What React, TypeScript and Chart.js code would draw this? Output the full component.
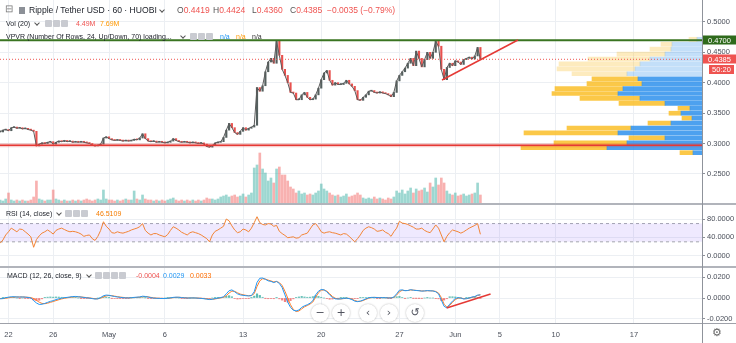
import React, { useEffect, useRef } from 'react';
import { Chart, registerables } from 'chart.js';

Chart.register(...registerables);

// ---------- time axis (days since Apr 22, 00:00) ----------
const START_DAY = -0.75; // first 6-hour bar
const STEP_DAYS = 0.25; // 6-hour bars
const X_MIN = -0.761;
const X_MAX = 62.09;
const dateTickDays = [0, 4, 9, 14, 21, 28, 35, 40, 44, 49, 56];
const dateTickLabels = ['22', '26', 'May', '6', '13', '20', '27', 'Jun', '5', '10', '17'];

// ---------- axis ticks ----------
const priceTicks = [0.25, 0.3, 0.35, 0.4, 0.45, 0.5];
const rsiTicks = [0, 40, 80];
const macdTicks = [-0.02, 0, 0.02];

// ---------- XRP/USDT closes (6h samples) ----------
const closes = [
  0.319, 0.322, 0.323, 0.321, 0.326, 0.327, 0.325, 0.326, 0.324, 0.325, 0.323, 0.322, 0.320,
  0.296, 0.299, 0.301, 0.300, 0.302, 0.303, 0.299, 0.302, 0.304, 0.303, 0.305, 0.303, 0.304, 0.302, 0.303, 0.302, 0.303, 0.302, 0.301, 0.300, 0.297, 0.296, 0.297, 0.299,
  0.309, 0.311, 0.308, 0.306, 0.305, 0.306, 0.305, 0.304, 0.305, 0.304, 0.305, 0.307, 0.306, 0.309, 0.316, 0.308, 0.304, 0.303, 0.304, 0.302, 0.303, 0.302, 0.301, 0.302, 0.304, 0.308, 0.305, 0.303, 0.302, 0.303, 0.302, 0.301, 0.302, 0.301, 0.300, 0.301, 0.299, 0.295, 0.294, 0.297, 0.301, 0.302, 0.303,
  0.310, 0.322, 0.333, 0.326, 0.318, 0.315, 0.320, 0.326, 0.322, 0.325, 0.327, 0.330,
  0.392, 0.386, 0.395, 0.418, 0.434, 0.440, 0.432, 0.468, 0.445, 0.422, 0.412, 0.400, 0.384, 0.383, 0.372, 0.372, 0.380, 0.384, 0.376, 0.372, 0.373, 0.380, 0.391, 0.405, 0.416, 0.420, 0.404, 0.396, 0.400, 0.397, 0.397, 0.399, 0.404, 0.398, 0.394, 0.387, 0.372, 0.371, 0.376, 0.380, 0.386, 0.387, 0.384, 0.383, 0.385, 0.383, 0.382, 0.380, 0.377, 0.384, 0.403, 0.412, 0.418, 0.424, 0.432, 0.440, 0.428, 0.452, 0.440, 0.426, 0.438, 0.450, 0.440, 0.450, 0.468, 0.460, 0.422, 0.405, 0.425, 0.432, 0.428, 0.436, 0.434, 0.430, 0.438, 0.440, 0.442, 0.439, 0.444, 0.458, 0.4385,
];

// ---------- volume (M, 6h) ----------
const volumes = [
  3, 2, 4, 10, 3, 2, 3, 2, 3, 2, 2, 3, 6,
  22,
  4, 3, 2, 3, 3, 13, 4, 3, 2, 3, 2, 2, 3, 2, 3, 2, 3, 4, 3, 2, 3, 4, 3,
  13,
  4, 3, 3, 2, 3, 2, 3, 4, 3, 3, 12, 4, 3, 8, 4, 3, 3, 2, 3, 2, 3, 2, 3, 4, 5, 3, 2, 3, 2, 3, 2, 3, 2, 3, 2, 3, 5, 4, 4, 3, 4, 6,
  7, 8, 6, 7, 8, 6, 7, 9, 6, 8, 10,
  35, 38, 50, 34, 30, 22, 25, 20, 34, 36, 28, 28, 22, 16, 14, 10, 12, 9, 10, 8, 9, 8, 10, 12, 19, 14, 12, 10, 8,
  7, 8, 6, 7, 9, 6, 7, 8, 10, 8, 5, 4, 5, 4, 6, 4, 5, 4, 3, 5, 4, 6,
  12, 10, 13, 9, 12, 15, 10, 14, 12, 13, 15, 11, 20, 16, 25, 18, 25, 20, 12, 9, 8, 10, 7, 8, 9, 7, 8, 9, 10, 20, 8,
];

// ---------- RSI (14) ----------
const rsi = [
  27, 34, 45, 52, 60, 56, 52, 58, 57, 52, 47, 41, 18, 35, 43, 49, 52, 56, 52, 47,
  55, 58, 60, 57, 54, 52, 53, 52, 50, 47, 42, 44, 45, 37, 33, 42, 55, 74, 64, 58,
  50, 49, 52, 50, 49, 51, 53, 56, 58, 60, 63, 70, 55, 49, 45, 48, 48, 45, 43, 41,
  46, 55, 63, 60, 56, 51, 48, 45, 50, 52, 50, 48, 45, 41, 37, 30, 45, 53, 56, 60,
  64, 80, 76, 65, 56, 50, 52, 58, 56, 52, 60, 72, 85, 72, 68, 67, 70, 69, 64, 66,
  53, 48, 44, 39, 40, 41, 38, 39, 45, 47, 49, 58, 67, 70, 62, 52, 49, 51, 52, 50,
  49, 47, 45, 48, 47, 42, 36, 30, 37, 45, 55, 60, 63, 61, 58, 53, 54, 56, 51, 48,
  42, 52, 60, 75, 71, 70, 68, 65, 62, 58, 58, 60, 55, 52, 50, 58, 67, 60, 45, 30,
  42, 50, 56, 54, 52, 49, 52, 56, 60, 63, 66, 70, 46.5109,
];

// ---------- MACD (12, 26, 9) ----------
const macd = [
  -0.0008, -0.0005, 0.0003, 0.0008, 0.0012, 0.0012, 0.0010, 0.0009, 0.0010, 0.0008, 0.0005, 0.0001, -0.0025, -0.0048, -0.0062, -0.0060, -0.0052, -0.0042, -0.0032, -0.0026,
  -0.0015, -0.0008, -0.0002, 0.0003, 0.0006, 0.0010, 0.0014, 0.0015, 0.0012, 0.0009, 0.0005, 0.0002, -0.0001, -0.0006, -0.0010, -0.0008, 0.0004, 0.0022, 0.0028, 0.0026,
  0.0020, 0.0014, 0.0010, 0.0006, 0.0003, 0.0001, 0.0001, 0.0003, 0.0006, 0.0008, 0.0010, 0.0017, 0.0015, 0.0009, 0.0003, -0.0001, -0.0003, -0.0004, -0.0005, -0.0005,
  -0.0003, 0.0001, 0.0006, 0.0008, 0.0007, 0.0004, 0.0002, 0.0000, 0.0000, 0.0001, 0.0000, -0.0002, -0.0004, -0.0007, -0.0011, -0.0015, -0.0012, -0.0006, -0.0001, 0.0004,
  0.0012, 0.0040, 0.0070, 0.0078, 0.0060, 0.0040, 0.0030, 0.0026, 0.0022, 0.0020, 0.0024, 0.0060, 0.0150, 0.0190, 0.0192, 0.0180, 0.0165, 0.0160, 0.0148, 0.0160,
  0.0140, 0.0100, 0.0030, -0.0040, -0.0090, -0.0118, -0.0124, -0.0115, -0.0090, -0.0075, -0.0065, -0.0050, -0.0025, 0.0030, 0.0065, 0.0082, 0.0078, 0.0060, 0.0030, 0.0005,
  -0.0008, -0.0010, -0.0008, -0.0004, -0.0002, -0.0006, -0.0015, -0.0030, -0.0035, -0.0030, -0.0020, -0.0008, 0.0002, 0.0006, 0.0006, 0.0004, 0.0003, 0.0004, 0.0003, 0.0001,
  0.0000, 0.0010, 0.0040, 0.0075, 0.0078, 0.0070, 0.0072, 0.0080, 0.0075, 0.0072, 0.0070, 0.0066, 0.0068, 0.0071, 0.0069, 0.0068, 0.0060, 0.0040, -0.0020, -0.0080,
  -0.0095, -0.0060, -0.0030, -0.0005, 0.0003, 0.0000, -0.0010, -0.0006, 0.0000, 0.0010, 0.0014, 0.0028, 0.0029,
];
const signal = [
  -0.0005, -0.0006, -0.0003, 0.0002, 0.0006, 0.0009, 0.0010, 0.0010, 0.0010, 0.0009, 0.0007, 0.0004, -0.0005, -0.0022, -0.0040, -0.0052, -0.0055, -0.0050, -0.0042, -0.0034,
  -0.0025, -0.0017, -0.0009, -0.0003, 0.0002, 0.0006, 0.0010, 0.0012, 0.0012, 0.0010, 0.0007, 0.0004, 0.0001, -0.0003, -0.0007, -0.0008, -0.0002, 0.0010, 0.0020, 0.0024,
  0.0022, 0.0018, 0.0013, 0.0009, 0.0006, 0.0003, 0.0002, 0.0002, 0.0004, 0.0006, 0.0008, 0.0012, 0.0014, 0.0011, 0.0006, 0.0002, -0.0001, -0.0003, -0.0004, -0.0005,
  -0.0004, -0.0001, 0.0003, 0.0006, 0.0007, 0.0005, 0.0003, 0.0001, 0.0000, 0.0001, 0.0000, -0.0001, -0.0003, -0.0005, -0.0008, -0.0012, -0.0012, -0.0009, -0.0004, 0.0001,
  0.0007, 0.0022, 0.0048, 0.0066, 0.0064, 0.0050, 0.0038, 0.0031, 0.0026, 0.0022, 0.0023, 0.0042, 0.0110, 0.0165, 0.0185, 0.0182, 0.0172, 0.0164, 0.0155, 0.0158,
  0.0148, 0.0120, 0.0065, 0.0000, -0.0065, -0.0110, -0.0130, -0.0125, -0.0105, -0.0085, -0.0072, -0.0058, -0.0038, 0.0008, 0.0050, 0.0075, 0.0078, 0.0066, 0.0042, 0.0015,
  -0.0002, -0.0008, -0.0009, -0.0006, -0.0003, -0.0004, -0.0011, -0.0024, -0.0032, -0.0032, -0.0024, -0.0013, -0.0002, 0.0004, 0.0006, 0.0005, 0.0004, 0.0004, 0.0003, 0.0002,
  0.0001, 0.0006, 0.0028, 0.0060, 0.0074, 0.0072, 0.0072, 0.0077, 0.0076, 0.0073, 0.0071, 0.0068, 0.0068, 0.0070, 0.0069, 0.0068, 0.0063, 0.0048, 0.0005, -0.0060,
  -0.0088, -0.0072, -0.0042, -0.0015, -0.0002, 0.0000, -0.0006, -0.0007, -0.0002, 0.0006, 0.0012, 0.0024, 0.0033,
];

// ---------- Volume profile (24 rows) ----------
const vpvrPrices = [
  0.4747, 0.4666, 0.4585, 0.4504, 0.4423, 0.4342, 0.4261, 0.4180, 0.4098, 0.4017, 0.3936, 0.3855,
  0.3774, 0.3693, 0.3612, 0.3531, 0.3450, 0.3369, 0.3288, 0.3207, 0.3126, 0.3044, 0.2963, 0.2882,
];
const vpvrDown = [5, 30, 31, 37, 52, 62, 67, 75, 64, 60, 79, 84, 62, 37, 12, 21, 10, 31, 71, 84, 37, 75, 95, 9];
const vpvrUp = [8, 11, 21, 48, 62, 81, 78, 55, 46, 55, 68, 66, 60, 46, 12, 12, 10, 23, 64, 94, 36, 73, 86, 13];
const vpvrValueArea = [0, 0, 0, 0, 0, 0, 0, 0, 1, 1, 1, 1, 1, 1, 1, 1, 1, 1, 1, 1, 1, 1, 1, 1];

// ---------- drawn levels ----------
const resistance = 0.47;
const support = 0.297;
const lastPrice = 0.4385;
const priceTrendDays = [38.81, 45.61];
const priceTrendValues = [0.4044, 0.4702];
const macdTrendDays = [39.23, 43.16];
const macdTrendValues = [-0.0096, 0.0038];
const boxValues = [0.47, 0.4385];
const boxTexts = ['0.4700', '0.4385'];
const boxColors = ['#2f6a1c', '#ef5350'];
const countdownText = '50:20';

const FONT = "'Liberation Sans', Arial, sans-serif";
const TEXT = '#4a4f5a';
const GRID = '#eceff3';

const fixY = (s: any) => {
  s.width = 34;
  s.paddingTop = 0;
  s.paddingBottom = 0;
};

function timeScale(showLabels: boolean) {
  return {
    type: 'linear',
    position: 'bottom',
    min: X_MIN,
    max: X_MAX,
    bounds: 'data',
    offset: false,
    afterBuildTicks: (s: any) => {
      s.ticks = dateTickDays.map((v) => ({ value: v }));
    },
    afterFit: (s: any) => {
      s.height = showLabels ? 20 : 0;
      s.paddingLeft = 0;
      s.paddingRight = 0;
    },
    grid: { color: GRID, drawTicks: false, lineWidth: 1, offset: false },
    border: { display: false },
    ticks: {
      display: showLabels,
      autoSkip: false,
      maxRotation: 0,
      padding: 7,
      color: TEXT,
      font: { size: 7.5, family: FONT },
      callback: (_v: any, idx: number) => dateTickLabels[idx],
    },
  };
}

function valueScale(min: number, max: number, ticks: number[]) {
  return {
    type: 'linear',
    position: 'right',
    min,
    max,
    bounds: 'data',
    offset: false,
    afterBuildTicks: (s: any) => {
      s.ticks = ticks.map((v) => ({ value: v }));
    },
    afterFit: fixY,
    grid: { color: GRID, tickColor: '#8d9098', tickLength: 3, drawTicks: true, offset: false },
    border: { display: false },
    ticks: {
      padding: 2,
      color: TEXT,
      font: { size: 7.5, family: FONT },
      callback: (v: any) => Number(v).toFixed(4),
    },
  };
}

const axisBoxPlugin = {
  id: 'axisBoxes',
  afterDraw(chart: any) {
    const { ctx, chartArea } = chart;
    const y = chart.scales.y;
    ctx.save();
    ctx.font = `7.5px ${FONT}`;
    ctx.textBaseline = 'middle';
    const x0 = chartArea.right + 1;
    const w = chart.width - x0;
    let lastPy = 0;
    boxValues.forEach((v, k) => {
      const py = Math.round(y.getPixelForValue(v));
      ctx.fillStyle = boxColors[k];
      ctx.fillRect(x0, py - 4.5, w, 9);
      ctx.fillStyle = '#ffffff';
      ctx.textAlign = 'left';
      ctx.fillText(boxTexts[k], x0 + 5, py + 0.5);
      if (v === lastPrice) lastPy = py;
    });
    ctx.fillStyle = '#ef5350';
    ctx.fillRect(x0 + 6, lastPy + 6, 25, 9);
    ctx.fillStyle = '#ffffff';
    ctx.textAlign = 'center';
    ctx.fillText(countdownText, x0 + 18.5, lastPy + 11);
    ctx.restore();
  },
};

const iconBox: React.CSSProperties = {
  display: 'inline-block',
  width: 7,
  height: 7,
  background: '#c9cbd1',
  borderRadius: 1,
  marginRight: 1,
  verticalAlign: 'middle',
};

function Icons({ n, left, top }: { n: number; left: number; top: number }) {
  return (
    <div style={{ position: 'absolute', left, top, lineHeight: 0 }}>
      {Array.from({ length: n }).map((_, k) => (
        <span key={k} style={iconBox} />
      ))}
    </div>
  );
}

function Chevron({ left, top }: { left: number; top: number }) {
  return (
    <span
      style={{
        position: 'absolute',
        left,
        top,
        width: 3,
        height: 3,
        borderRight: '1px solid #555',
        borderBottom: '1px solid #555',
        transform: 'rotate(45deg)',
      }}
    />
  );
}

function Txt(props: { left: number; top: number; size: number; color: string; children: any }) {
  return (
    <div
      style={{
        position: 'absolute',
        left: props.left,
        top: props.top,
        fontSize: props.size,
        lineHeight: `${props.size + 2}px`,
        color: props.color,
        fontFamily: FONT,
        whiteSpace: 'pre',
      }}
    >
      {props.children}
    </div>
  );
}

export default function App() {
  const mainRef = useRef<HTMLCanvasElement>(null);
  const rsiRef = useRef<HTMLCanvasElement>(null);
  const macdRef = useRef<HTMLCanvasElement>(null);

  useEffect(() => {
    Chart.defaults.font.family = FONT;
    Chart.defaults.font.size = 8;
    Chart.defaults.color = TEXT;

    const times = closes.map((_, i) => START_DAY + i * STEP_DAYS);
    const pt = (arr: number[]) => arr.map((v, i) => ({ x: times[i], y: v }));
    const opens = closes.map((c, i) => (i === 0 ? c : closes[i - 1]));
    const up = closes.map((c, i) => c >= opens[i]);
    const hline = (v: number) => [
      { x: X_MIN, y: v },
      { x: X_MAX, y: v },
    ];
    const baseOpts = {
      responsive: false,
      animation: false,
      devicePixelRatio: 1,
      layout: { padding: 0 },
      plugins: { legend: { display: false }, tooltip: { enabled: false } },
      events: [],
    };

    const main = new Chart(mainRef.current as HTMLCanvasElement, {
      type: 'line',
      data: {
        datasets: [
          {
            type: 'bar',
            data: pt(volumes),
            xAxisID: 'x',
            yAxisID: 'yv',
            backgroundColor: up.map((u) => (u ? 'rgba(38,166,154,0.45)' : 'rgba(239,83,80,0.45)')),
            barThickness: 2,
            grouped: false,
            order: 20,
          },
          {
            type: 'bar',
            indexAxis: 'y',
            xAxisID: 'xv',
            yAxisID: 'y',
            stack: 'vp',
            data: vpvrPrices.map((p, k) => ({ x: vpvrDown[k], y: p })),
            backgroundColor: vpvrValueArea.map((a) => (a ? 'rgba(38,140,235,0.82)' : 'rgba(38,140,235,0.28)')),
            barThickness: 4,
            order: 15,
          },
          {
            type: 'bar',
            indexAxis: 'y',
            xAxisID: 'xv',
            yAxisID: 'y',
            stack: 'vp',
            data: vpvrPrices.map((p, k) => ({ x: vpvrUp[k], y: p })),
            backgroundColor: vpvrValueArea.map((a) => (a ? 'rgba(250,190,40,0.85)' : 'rgba(250,190,40,0.3)')),
            barThickness: 4,
            order: 16,
          },
          {
            type: 'bar',
            data: closes.map((c, i) => ({ x: times[i], y: [opens[i], c] })),
            xAxisID: 'x',
            yAxisID: 'y',
            backgroundColor: up.map((u) => (u ? '#55605f' : '#e8514e')),
            barThickness: 1.5,
            minBarLength: 1,
            grouped: false,
            order: 10,
          },
          {
            type: 'line',
            data: pt(closes),
            xAxisID: 'x',
            yAxisID: 'y',
            borderColor: '#5b5b5b',
            borderWidth: 1,
            pointRadius: 0,
            order: 9,
          },
          {
            type: 'line',
            data: hline(support),
            xAxisID: 'x',
            yAxisID: 'y',
            borderColor: 'rgba(229,57,53,0.25)',
            borderWidth: 4,
            pointRadius: 0,
            order: 4,
          },
          {
            type: 'line',
            data: hline(support),
            xAxisID: 'x',
            yAxisID: 'y',
            borderColor: '#e53935',
            borderWidth: 1.5,
            pointRadius: 0,
            order: 3,
          },
          {
            type: 'line',
            data: hline(lastPrice),
            xAxisID: 'x',
            yAxisID: 'y',
            borderColor: '#ef5350',
            borderWidth: 1,
            borderDash: [1, 2],
            pointRadius: 0,
            order: 3,
          },
          {
            type: 'line',
            data: hline(resistance),
            xAxisID: 'x',
            yAxisID: 'y',
            borderColor: '#3a7421',
            borderWidth: 2,
            pointRadius: 0,
            order: 2,
          },
          {
            type: 'line',
            data: priceTrendDays.map((d, k) => ({ x: d, y: priceTrendValues[k] })),
            xAxisID: 'x',
            yAxisID: 'y',
            borderColor: '#e53935',
            borderWidth: 1.5,
            pointRadius: 0,
            order: 1,
          },
        ],
      } as any,
      options: {
        ...baseOpts,
        scales: {
          x: timeScale(false),
          xv: { type: 'linear', axis: 'x', display: false, min: 0, max: 702, reverse: true, offset: false, bounds: 'data' },
          y: valueScale(0.20214, 0.53602, priceTicks),
          yv: { type: 'linear', axis: 'y', display: false, min: 0, max: 203, offset: false, bounds: 'data' },
        },
      } as any,
      plugins: [axisBoxPlugin],
    });

    const rsiChart = new Chart(rsiRef.current as HTMLCanvasElement, {
      type: 'line',
      data: {
        datasets: [
          {
            data: hline(70),
            borderColor: '#a3a6ae',
            borderWidth: 1,
            borderDash: [3, 3],
            pointRadius: 0,
            fill: false,
            order: 5,
          },
          {
            data: hline(30),
            borderColor: '#a3a6ae',
            borderWidth: 1,
            borderDash: [3, 3],
            pointRadius: 0,
            fill: '-1',
            backgroundColor: 'rgba(150,110,250,0.15)',
            order: 4,
          },
          {
            data: pt(rsi),
            borderColor: '#f28435',
            borderWidth: 1,
            pointRadius: 0,
            fill: false,
            order: 1,
          },
        ],
      } as any,
      options: {
        ...baseOpts,
        scales: {
          x: timeScale(false),
          y: valueScale(-23.0, 110.7, rsiTicks),
        },
      } as any,
    });

    const hist = macd.map((m, i) => m - signal[i]);
    const macdChart = new Chart(macdRef.current as HTMLCanvasElement, {
      type: 'line',
      data: {
        datasets: [
          {
            type: 'bar',
            data: pt(hist),
            backgroundColor: hist.map((h) => (h >= 0 ? 'rgba(38,166,154,0.75)' : 'rgba(239,83,80,0.75)')),
            barThickness: 1.5,
            grouped: false,
            order: 10,
          },
          {
            type: 'line',
            data: pt(signal),
            borderColor: '#ff7f2a',
            borderWidth: 1,
            pointRadius: 0,
            order: 3,
          },
          {
            type: 'line',
            data: pt(macd),
            borderColor: '#2196f3',
            borderWidth: 1,
            pointRadius: 0,
            order: 2,
          },
          {
            type: 'line',
            data: macdTrendDays.map((d, k) => ({ x: d, y: macdTrendValues[k] })),
            borderColor: '#e53935',
            borderWidth: 1.5,
            pointRadius: 0,
            order: 1,
          },
        ],
      } as any,
      options: {
        ...baseOpts,
        scales: {
          x: timeScale(true),
          y: valueScale(-0.02404, 0.02885, macdTicks),
        },
      } as any,
    });

    return () => {
      main.destroy();
      rsiChart.destroy();
      macdChart.destroy();
    };
  }, []);

  const circle = (left: number, glyph: string) => (
    <div
      key={left}
      style={{
        position: 'absolute',
        left: left - 9,
        top: 304,
        width: 18,
        height: 18,
        borderRadius: 9,
        background: '#ffffff',
        boxShadow: '0 0 2px rgba(0,0,0,0.3)',
        color: '#50535e',
        fontFamily: "'DejaVu Sans', sans-serif",
        fontSize: 11,
        lineHeight: '18px',
        textAlign: 'center',
      }}
    >
      {glyph}
    </div>
  );

  return (
    <div
      style={{
        position: 'fixed',
        left: 0,
        top: 0,
        width: 736,
        height: 343,
        background: '#ffffff',
        overflow: 'hidden',
      }}
    >
      <canvas ref={mainRef} width={736} height={203} style={{ position: 'absolute', left: 0, top: 0, width: 736, height: 203 }} />
      <canvas ref={rsiRef} width={736} height={61} style={{ position: 'absolute', left: 0, top: 205, width: 736, height: 61 }} />
      <canvas ref={macdRef} width={736} height={75} style={{ position: 'absolute', left: 0, top: 268, width: 736, height: 75 }} />

      {/* pane separators and price-axis line */}
      <div style={{ position: 'absolute', left: 0, top: 203, width: 736, height: 2, background: '#b1b4bb' }} />
      <div style={{ position: 'absolute', left: 0, top: 266, width: 736, height: 2, background: '#b1b4bb' }} />
      <div style={{ position: 'absolute', left: 0, top: 323, width: 736, height: 1, background: '#9ea1a9' }} />
      <div style={{ position: 'absolute', left: 702, top: 0, width: 1, height: 343, background: '#8f939b' }} />

      {/* main legend */}
      <Txt left={5} top={3} size={10} color="#777">{'⊟'}</Txt>
      <div style={{ position: 'absolute', left: 19, top: 7, width: 6, height: 7, background: '#8c9097' }} />
      <Txt left={29} top={5} size={8.6} color="#20242c">{'Ripple / Tether USD · 60 · HUOBI'}</Txt>
      <Chevron left={160} top={8} />
      <Txt left={177} top={5} size={8.5} color="#ef5350"><span style={{ color: '#555' }}>O</span>0.4419</Txt>
      <Txt left={213} top={5} size={8.5} color="#ef5350"><span style={{ color: '#555' }}>H</span>0.4424</Txt>
      <Txt left={252} top={5} size={8.5} color="#ef5350"><span style={{ color: '#555' }}>L</span>0.4360</Txt>
      <Txt left={290} top={5} size={8.5} color="#ef5350"><span style={{ color: '#555' }}>C</span>0.4385</Txt>
      <Txt left={327} top={5} size={8.5} color="#ef5350">{'−0.0035 (−0.79%)'}</Txt>

      <Txt left={6} top={19} size={7} color="#20242c">{'Vol (20)'}</Txt>
      <Chevron left={35} top={21} />
      <Icons n={3} left={45} top={20} />
      <Txt left={76} top={19} size={7} color="#ef5350">{'4.49M'}</Txt>
      <Txt left={100} top={19} size={7} color="#ff9800">{'7.69M'}</Txt>

      <Txt left={6} top={32} size={7} color="#20242c">{'VPVR (Number Of Rows, 24, Up/Down, 70) loading...'}</Txt>
      <Chevron left={181} top={34} />
      <Icons n={3} left={190} top={33} />
      <Txt left={220} top={32} size={7} color="#2196f3">{'n/a'}</Txt>
      <Txt left={236} top={32} size={7} color="#ff9800">{'n/a'}</Txt>
      <Txt left={252} top={32} size={7} color="#333">{'n/a'}</Txt>

      {/* RSI legend */}
      <Txt left={6} top={209} size={7} color="#20242c">{'RSI (14, close)'}</Txt>
      <Chevron left={57} top={211} />
      <Icons n={3} left={65} top={210} />
      <Txt left={96} top={209} size={7} color="#f57c00">{'46.5109'}</Txt>

      {/* MACD legend */}
      <Txt left={7} top={271} size={7} color="#20242c">{'MACD (12, 26, close, 9)'}</Txt>
      <Chevron left={87} top={273} />
      <Icons n={4} left={95} top={272} />
      <Txt left={136} top={271} size={7} color="#ef5350">{'-0.0004'}</Txt>
      <Txt left={163} top={271} size={7} color="#2196f3">{'0.0029'}</Txt>
      <Txt left={190} top={271} size={7} color="#ff6d00">{'0.0033'}</Txt>

      {/* navigation buttons */}
      {circle(320, '−')}
      {circle(341, '+')}
      {circle(368, '‹')}
      {circle(389, '›')}
      {circle(415, '↺')}

      <Txt left={712} top={326} size={11} color="#666">{'⚙'}</Txt>
    </div>
  );
}
